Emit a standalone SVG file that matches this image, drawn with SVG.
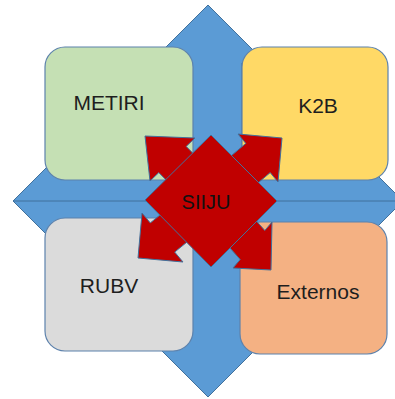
<svg xmlns="http://www.w3.org/2000/svg" width="395" height="399" viewBox="0 0 395 399">
  <style>
    .cross { fill: #5B9BD5; stroke: #41719C; stroke-width: 1; }
    .axis { stroke: #41719C; stroke-width: 1; }
    .box { stroke: #5D82AC; stroke-width: 1.2; }
    .red { fill: #C00000; stroke: #41719C; stroke-width: 1; stroke-linejoin: miter; }
    .label { font-family: "Liberation Sans", Arial, sans-serif; font-size: 21px; fill: #1E1E1E; text-anchor: middle; }
    .hub { font-family: "Liberation Sans", Arial, sans-serif; font-size: 20px; fill: #111111; text-anchor: middle; }
  </style>
  <rect width="395" height="399" fill="#FFFFFF"/>

  <g id="quad-arrow">
    <polygon class="cross" points="208,5 266,63 242,63 242,167 345,167 345,143 403,201 345,259 345,235 242,235 242,339 266,339 208,397 150,339 174,339 174,235 71,235 71,259 13,201 71,143 71,167 174,167 174,63 150,63"/>
    <line class="axis" x1="13" y1="201" x2="403" y2="201"/>
  </g>

  <g id="metiri">
    <rect class="box" x="45" y="47" width="148" height="133" rx="20" fill="#C5E0B4"/>
    <text class="label" x="109" y="110">METIRI</text>
  </g>
  <g id="k2b">
    <rect class="box" x="242" y="47" width="146" height="133" rx="20" fill="#FFD966"/>
    <text class="label" x="318" y="113">K2B</text>
  </g>
  <g id="rubv">
    <rect class="box" x="45" y="218" width="148" height="133" rx="20" fill="#DBDBDB"/>
    <text class="label" x="109" y="293">RUBV</text>
  </g>
  <g id="externos">
    <rect class="box" x="240" y="222" width="147" height="132" rx="20" fill="#F4B183"/>
    <text class="label" x="318" y="299">Externos</text>
  </g>

  <g id="connectors">
    <polygon class="red" points="145,136 195,138 186.2,146.4 228.2,189 200.8,215.2 158.8,172.6 150,181"/>
    <polygon class="red" points="282,138 278,182 270.2,172.6 224.5,211.4 200.1,182.2 245.8,143.4 238,134"/>
    <polygon class="red" points="138,258 142,213 150.3,222.9 196.7,185 221.1,214.2 174.7,252.1 183,262"/>
    <polygon class="red" points="271,270 233,268 240.2,259.5 200.4,214.6 225,185.6 264.8,230.5 272,222"/>
  </g>

  <g id="siiju">
    <polygon class="red" points="211,135 277,201 211,267 145,200"/>
    <text class="hub" x="206" y="209">SIIJU</text>
  </g>
</svg>
